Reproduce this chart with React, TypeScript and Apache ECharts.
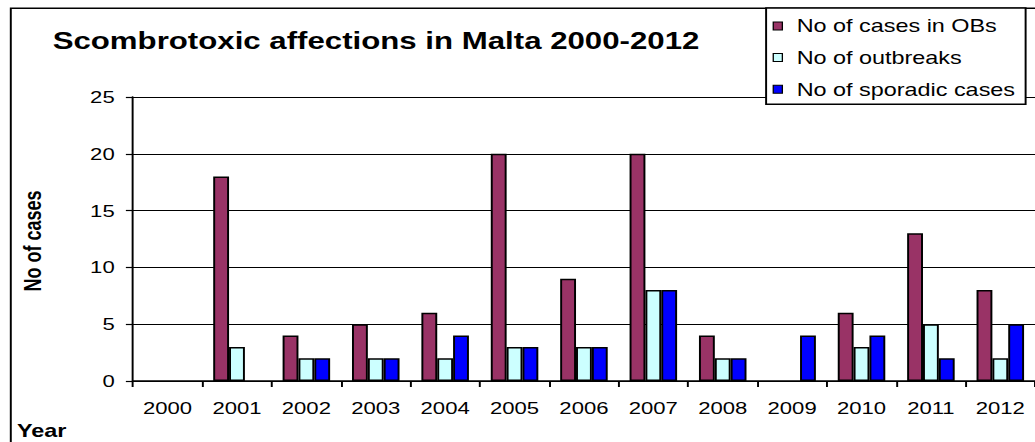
import React, { useEffect, useRef } from "react";
import * as echarts from "echarts";

const years = ["2000", "2001", "2002", "2003", "2004", "2005", "2006", "2007", "2008", "2009", "2010", "2011", "2012"];
const casesInOBs = [0, 18, 4, 5, 6, 20, 9, 20, 4, 0, 6, 13, 8];
const outbreaks = [0, 3, 2, 2, 2, 3, 3, 8, 2, 0, 3, 5, 2];
const sporadicCases = [0, 0, 2, 2, 4, 3, 3, 8, 2, 4, 4, 2, 5];
const seriesNames = ["No of cases in OBs", "No of outbreaks", "No of sporadic cases"];
const seriesColors = ["#993366", "#CCFFFF", "#0000FF"];
const yMin = 0;
const yMax = 25;
const yInterval = 5;
const titleText = "Scombrotoxic affections in Malta 2000-2012";
const yAxisTitle = "No of cases";
const xAxisTitle = "Year";

const FONT = "'Liberation Sans', Arial, Helvetica, sans-serif";
const VIEW_W = 1035;
const VIEW_H = 442;
const NATIVE_W = 796;

export default function App() {
  const ref = useRef<HTMLDivElement>(null);

  useEffect(() => {
    if (!ref.current) return;
    const chart = echarts.init(ref.current, undefined, { renderer: "svg" });
    const seriesData = [casesInOBs, outbreaks, sporadicCases];
    chart.setOption({
      animation: false,
      backgroundColor: "#ffffff",
      textStyle: { fontFamily: FONT },
      grid: { left: 102.2, right: -7.9, top: 97, bottom: 61, containLabel: false },
      legend: {
        orient: "vertical",
        left: 589.2,
        top: 8,
        padding: [9, 8, 6, 5],
        itemGap: 13.6,
        itemWidth: 7,
        itemHeight: 8,
        icon: "rect",
        backgroundColor: "#ffffff",
        borderColor: "#000000",
        borderWidth: 1.5,
        borderRadius: 0,
        selectedMode: false,
        textStyle: { fontSize: 18, color: "#000", fontFamily: FONT, lineHeight: 18, padding: [0, 0, 0, 6] },
        itemStyle: { borderColor: "#000", borderWidth: 1 },
        data: seriesNames,
        z: 10,
      },
      xAxis: {
        type: "category",
        data: years,
        boundaryGap: true,
        axisLine: { show: true, lineStyle: { color: "#000", width: 1.6 } },
        axisTick: { show: true, interval: 0, length: 6, inside: false, lineStyle: { color: "#000", width: 1.5 } },
        axisLabel: { interval: 0, margin: 18, fontSize: 17, color: "#000", fontFamily: FONT },
        splitLine: { show: false },
      },
      yAxis: {
        type: "value",
        min: yMin,
        max: yMax,
        interval: yInterval,
        axisLine: { show: true, lineStyle: { color: "#000", width: 1.5 } },
        axisTick: { show: true, length: 5.4, inside: false, lineStyle: { color: "#000", width: 1.2 } },
        axisLabel: { margin: 14, fontSize: 17, color: "#000", fontFamily: FONT },
        splitLine: { show: true, lineStyle: { color: "#000", width: 1 } },
      },
      series: seriesNames.map((name, i) => ({
        name,
        type: "bar",
        data: seriesData[i].map((v) => (v === 0 ? null : v)),
        barGap: "0%",
        barCategoryGap: "31.5%",
        itemStyle: { color: seriesColors[i], borderColor: "#000", borderWidth: 1.5 },
        emphasis: { disabled: true },
      })),
      graphic: [
        {
          type: "rect",
          z: 0,
          silent: true,
          shape: { x: 8.3, y: 8.3, width: 900, height: 600 },
          style: { fill: "none", stroke: "#000", lineWidth: 1.5 },
        },
        {
          type: "text",
          x: 40.5,
          y: 41,
          z: 5,
          style: {
            text: titleText,
            fill: "#000",
            fontSize: 24,
            fontWeight: "bold",
            fontFamily: FONT,
            align: "left",
            verticalAlign: "middle",
          },
        },
        {
          type: "text",
          x: 25,
          y: 241,
          rotation: Math.PI / 2,
          z: 5,
          style: {
            text: yAxisTitle,
            fill: "#000",
            fontSize: 18,
            fontWeight: "bold",
            fontFamily: FONT,
            align: "center",
            verticalAlign: "middle",
          },
        },
        {
          type: "text",
          x: 13,
          y: 431,
          z: 5,
          style: {
            text: xAxisTitle,
            fill: "#000",
            fontSize: 18,
            fontWeight: "bold",
            fontFamily: FONT,
            align: "left",
            verticalAlign: "middle",
          },
        },
      ],
    });
    return () => {
      chart.dispose();
    };
  }, []);

  return (
    <div
      style={{
        position: "fixed",
        left: 0,
        top: 0,
        width: VIEW_W,
        height: VIEW_H,
        overflow: "hidden",
        background: "#fff",
      }}
    >
      <div
        ref={ref}
        style={{
          width: NATIVE_W,
          height: VIEW_H,
          transform: `scaleX(${VIEW_W / NATIVE_W})`,
          transformOrigin: "0 0",
        }}
      />
    </div>
  );
}
